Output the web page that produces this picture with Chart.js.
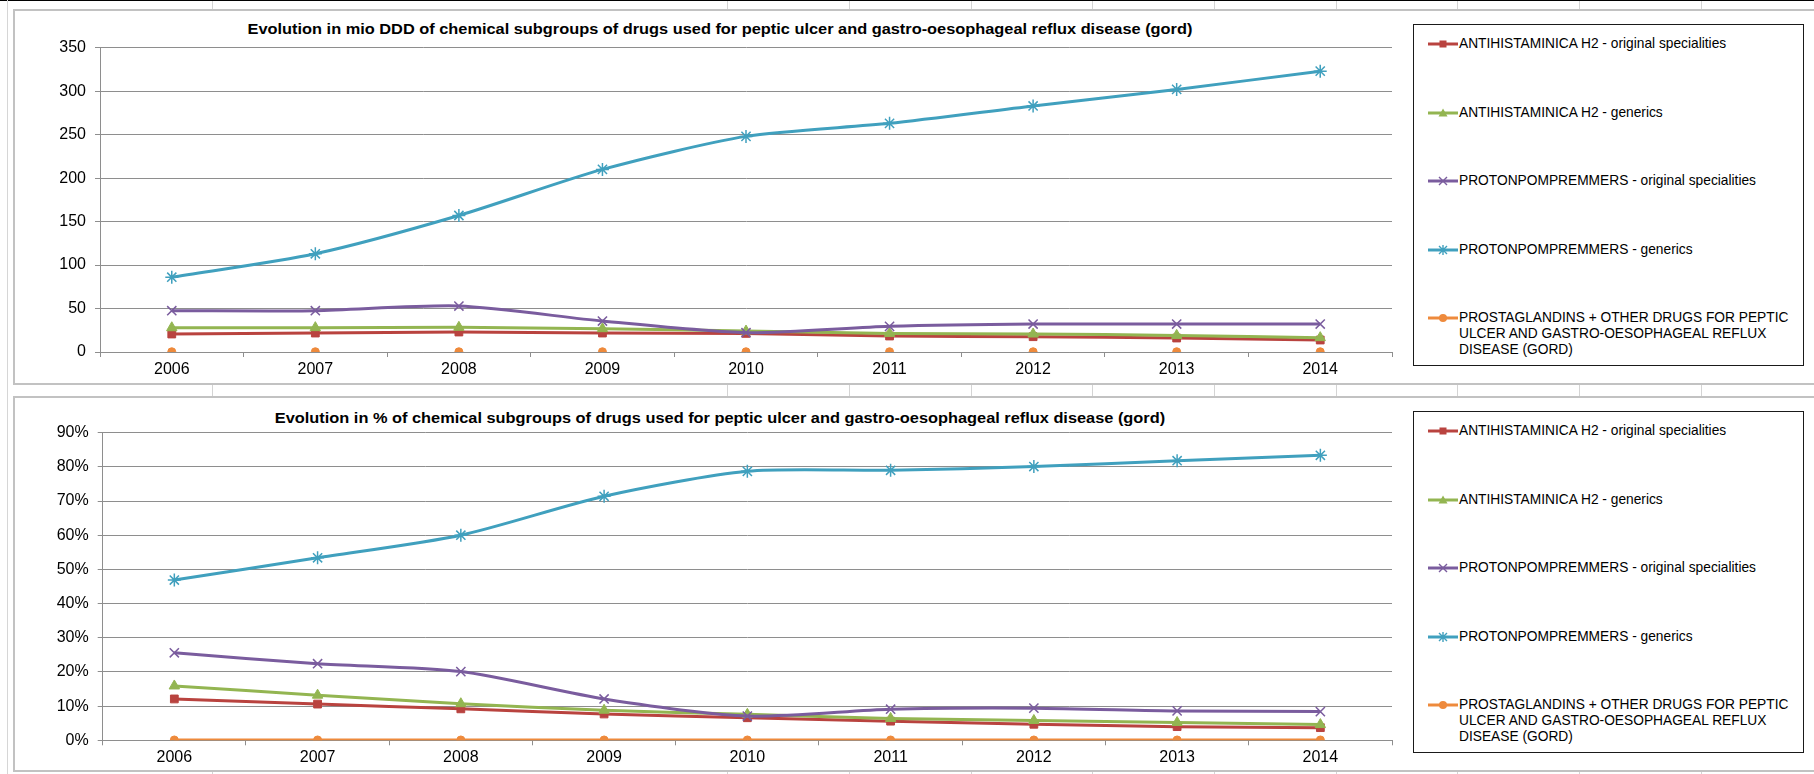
<!DOCTYPE html>
<html><head><meta charset="utf-8">
<script src="https://cdn.jsdelivr.net/npm/chart.js@4.4.1/dist/chart.umd.min.js"></script>
<style>
html,body{margin:0;padding:0;background:#fff;}
body{width:1814px;height:774px;overflow:hidden;position:relative;font-family:"Liberation Sans",Arial,sans-serif;color:#000;}
.abs{position:absolute;}
.frame{position:absolute;left:13px;width:1830px;border:2px solid #c2c2c2;box-sizing:border-box;background:#fff;}
.vline{position:absolute;width:1px;background:#d4d4d4;}
.title{position:absolute;left:0;width:1440px;text-align:center;font-weight:bold;font-size:15px;line-height:16px;white-space:nowrap;transform:scaleX(1.09);transform-origin:720px 0;}
.legend{position:absolute;left:1413px;width:391px;border:1px solid #1a1a1a;box-sizing:border-box;background:#fff;}
.item{position:absolute;left:14px;font-size:13.75px;line-height:16px;white-space:nowrap;}
.item svg{position:absolute;left:0;top:0;}
.item span{position:absolute;left:31px;top:0;}
canvas{position:absolute;left:0;}
</style></head><body>
<div class="abs" style="left:0;top:0;width:1814px;height:1px;background:#000"></div>
<div class="abs" style="left:7px;top:0;width:1px;height:774px;background:#d6d6d6"></div>
<div id="cells"></div>
<div class="frame" style="top:9px;height:376px"></div>
<div class="frame" style="top:396px;height:376px"></div>
<div class="title" style="top:21px">Evolution in mio DDD of chemical subgroups of drugs used for peptic ulcer and gastro-oesophageal reflux disease (gord)</div>
<div class="title" style="top:410px">Evolution in % of chemical subgroups of drugs used for peptic ulcer and gastro-oesophageal reflux disease (gord)</div>
<canvas id="c1" width="1400" height="384" style="top:0;width:1400px;height:384px"></canvas>
<canvas id="c2" width="1400" height="384" style="top:390px;width:1400px;height:384px"></canvas>
<div class="legend" id="lg1" style="top:24px;height:342px"></div>
<div class="legend" id="lg2" style="top:411px;height:342px"></div>
<script>
const years = ['2006','2007','2008','2009','2010','2011','2012','2013','2014'];
const seriesNames = [
  'ANTIHISTAMINICA H2 - original specialities',
  'ANTIHISTAMINICA H2 - generics',
  'PROTONPOMPREMMERS - original specialities',
  'PROTONPOMPREMMERS - generics',
  'PROSTAGLANDINS + OTHER DRUGS FOR PEPTIC<br>ULCER AND GASTRO-OESOPHAGEAL REFLUX<br>DISEASE (GORD)'
];
// Evolution in mio DDD
const dddH2Orig  = [20.7, 21.8, 23.0, 21.8, 21.4, 18.4, 17.6, 16.1, 13.8];
const dddH2Gen   = [27.9, 28.0, 28.4, 26.8, 24.1, 21.4, 20.7, 19.1, 16.5];
const dddPpiOrig = [47.5, 47.5, 52.9, 35.6, 22.2, 29.5, 32.2, 32.2, 32.2];
const dddPpiGen  = [86, 113, 157, 210, 248, 263, 283, 302, 323];
const dddOther   = [0.3, 0.3, 0.3, 0.3, 0.3, 0.3, 0.3, 0.3, 0.3];
// Evolution in %
const pctH2Orig  = [12.1, 10.6, 9.2, 7.7, 6.6, 5.6, 4.7, 4.0, 3.7];
const pctH2Gen   = [15.9, 13.2, 10.7, 8.8, 7.6, 6.4, 5.8, 5.2, 4.6];
const pctPpiOrig = [25.6, 22.4, 20.1, 12.1, 7.1, 9.1, 9.4, 8.6, 8.4];
const pctPpiGen  = [46.9, 53.4, 60.0, 71.4, 78.7, 79.0, 80.1, 81.8, 83.4];
const pctOther   = [0.1, 0.1, 0.1, 0.1, 0.1, 0.1, 0.1, 0.1, 0.1];
// axis ticks
const dddMax = 350, dddStep = 50;
const pctMax = 90, pctStep = 10;

const colors = ['#B9433F', '#93B551', '#7A5C9E', '#40A0BE', '#EE8A3C'];
const styles = ['rect', 'triangle', 'crossRot', 'star', 'circle'];
const radii  = [5.5, 6, 6.5, 6.5, 4];

// spreadsheet cell dividers (background decoration)
(function(){
  const xs = [212, 727, 849, 971, 1092, 1214, 1336, 1457, 1579, 1701];
  const strips = [[1, 8], [385, 11], [772, 2]];
  let h = '';
  strips.forEach(s => xs.forEach(x => { h += '<div class="vline" style="left:'+x+'px;top:'+s[0]+'px;height:'+s[1]+'px"></div>'; }));
  document.getElementById('cells').innerHTML = h;
})();

function makeDatasets(arrs, hideLastLine) {
  return arrs.map((d, i) => ({
    label: seriesNames[i].replace(/<br>/g, ' '),
    data: d,
    borderColor: colors[i],
    backgroundColor: colors[i],
    borderWidth: 3,
    pointStyle: styles[i],
    pointRadius: radii[i],
    pointHoverRadius: radii[i],
    pointBorderWidth: (styles[i] === 'crossRot' || styles[i] === 'star') ? 1.5 : 1,
    tension: 0.25,
    showLine: !(hideLastLine && i === 4),
    order: 5 - i
  }));
}

function makeChart(id, datasets, g, yMax, yStep, fmt) {
  const H = 384;
  new Chart(document.getElementById(id), {
    type: 'line',
    data: { labels: years, datasets: datasets },
    options: {
      responsive: false, animation: false, devicePixelRatio: 1,
      layout: { padding: { top: g.top, right: 1400 - g.right, left: 0, bottom: 0 } },
      plugins: { legend: { display: false }, title: { display: false }, tooltip: { enabled: false } },
      scales: {
        x: {
          offset: true,
          grid: { display: true, offset: true, drawOnChartArea: false, drawTicks: true, tickLength: 5, color: '#8e8e8e' },
          border: { display: true, color: '#8e8e8e', width: 1 },
          ticks: { color: '#000', font: { family: 'Liberation Sans', size: 16 }, padding: 3, maxRotation: 0 },
          afterFit: s => { s.height = H - g.bottom; }
        },
        y: {
          min: 0, max: yMax,
          grid: { color: '#8e8e8e', tickLength: 5, drawTicks: true },
          border: { display: true, color: '#8e8e8e', width: 1 },
          ticks: { stepSize: yStep, color: '#000', font: { family: 'Liberation Sans', size: 16 }, padding: 9, callback: fmt },
          afterFit: s => { s.width = g.left; }
        }
      }
    }
  });
}

makeChart('c1', makeDatasets([dddH2Orig, dddH2Gen, dddPpiOrig, dddPpiGen, dddOther], true),
  { top: 47.7, bottom: 352, left: 100, right: 1394 }, dddMax, dddStep, v => v);
makeChart('c2', makeDatasets([pctH2Orig, pctH2Gen, pctPpiOrig, pctPpiGen, pctOther], false),
  { top: 42.7, bottom: 350.3, left: 102.7, right: 1394 }, pctMax, pctStep, v => v + '%');

function markerSvg(i) {
  const c = colors[i], cx = 15, cy = 8;
  let m = '';
  if (styles[i] === 'rect') m = '<rect x="'+(cx-3.5)+'" y="'+(cy-3.5)+'" width="7" height="7" fill="'+c+'"/>';
  else if (styles[i] === 'triangle') m = '<polygon points="'+cx+','+(cy-4.5)+' '+(cx+4.5)+','+(cy+3.5)+' '+(cx-4.5)+','+(cy+3.5)+'" fill="'+c+'"/>';
  else if (styles[i] === 'crossRot') m = '<path d="M'+(cx-4)+' '+(cy-4)+'L'+(cx+4)+' '+(cy+4)+'M'+(cx+4)+' '+(cy-4)+'L'+(cx-4)+' '+(cy+4)+'" stroke="'+c+'" stroke-width="1.4"/>';
  else if (styles[i] === 'star') m = '<path d="M'+(cx-4)+' '+(cy-4)+'L'+(cx+4)+' '+(cy+4)+'M'+(cx+4)+' '+(cy-4)+'L'+(cx-4)+' '+(cy+4)+'M'+cx+' '+(cy-5)+'L'+cx+' '+(cy+5)+'" stroke="'+c+'" stroke-width="1.4"/>';
  else m = '<circle cx="'+cx+'" cy="'+cy+'" r="4" fill="'+c+'"/>';
  return '<svg width="30" height="16"><line x1="0" y1="8" x2="30" y2="8" stroke="'+c+'" stroke-width="3"/>'+m+'</svg>';
}
const legendOffsets = [18.5, 87.5, 156, 225, 293];
['lg1', 'lg2'].forEach(id => {
  let h = '';
  seriesNames.forEach((n, i) => {
    h += '<div class="item" style="top:'+(legendOffsets[i] - 8)+'px">'+markerSvg(i)+'<span>'+n+'</span></div>';
  });
  document.getElementById(id).innerHTML = h;
});
</script>
</body></html>
